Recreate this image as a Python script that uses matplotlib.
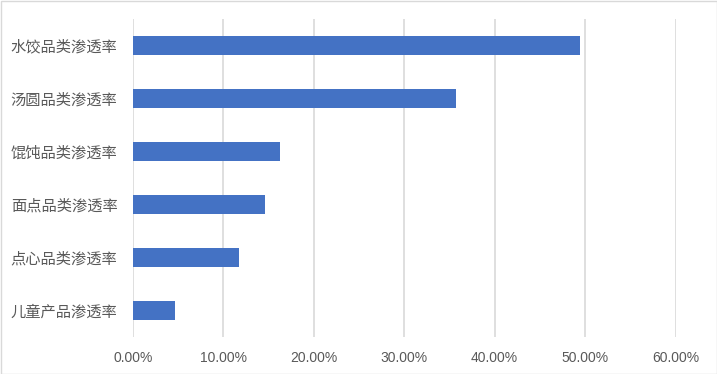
import matplotlib.pyplot as plt
from matplotlib.ticker import FuncFormatter
from matplotlib.patches import Rectangle

plt.rcParams['font.family'] = ['Noto Sans CJK SC', 'DejaVu Sans']

categories = ['水饺品类渗透率', '汤圆品类渗透率', '馄饨品类渗透率',
              '面点品类渗透率', '点心品类渗透率', '儿童产品渗透率']
values = [0.494, 0.357, 0.163, 0.146, 0.117, 0.047]
xticks = [0, 0.1, 0.2, 0.3, 0.4, 0.5, 0.6]

fig = plt.figure(figsize=(7.17, 3.74), dpi=100)
ax = fig.add_axes([132.7 / 717, 1 - 337 / 374, (675.6 - 132.7) / 717, (337 - 18.8) / 374])

# top category first
ypos = list(range(len(categories)))[::-1]
ax.barh(ypos, values, height=0.36, color='#4472C4', zorder=3)

ax.set_xlim(0, 0.6)
ax.set_ylim(-0.5, len(categories) - 0.5)
ax.set_xticks(xticks)
ax.xaxis.set_major_formatter(FuncFormatter(lambda v, p: f'{v * 100:.2f}%'))
ax.set_yticks(ypos)
ax.set_yticklabels(categories)

ax.grid(axis='x', color='#D9D9D9', linewidth=1.2, zorder=0)
for s in ax.spines.values():
    s.set_visible(False)
ax.tick_params(axis='x', length=0, pad=10, labelsize=10, labelcolor='#595959')
ax.tick_params(axis='y', length=0, pad=11, labelsize=11, labelcolor='#595959')
for lb in ax.get_xticklabels():
    lb.set_family(['Liberation Sans', 'DejaVu Sans'])

# light border round the chart area
fig.patches.append(Rectangle((0.5 / 717, 0.5 / 374), 1 - 1 / 717, 1 - 1 / 374,
                             transform=fig.transFigure, fill=False,
                             edgecolor='#D9D9D9', linewidth=1))

fig.savefig('out.png', dpi=100)
